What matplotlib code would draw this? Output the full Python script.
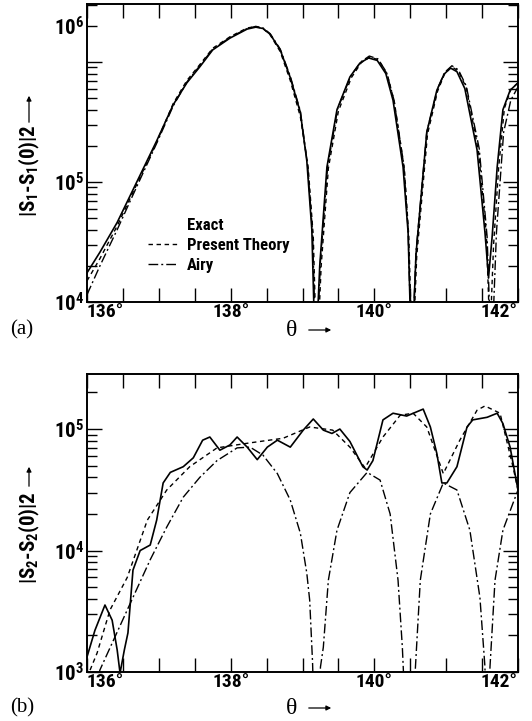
import matplotlib
matplotlib.use("Agg")
import matplotlib.pyplot as plt
from matplotlib.lines import Line2D
from matplotlib.patches import FancyArrowPatch
from matplotlib.ticker import FixedLocator, NullFormatter

plt.rcParams['font.family'] = ['Roboto Condensed', 'DejaVu Sans']
plt.rcParams['font.weight'] = 'bold'
plt.rcParams['mathtext.fontset'] = 'custom'
plt.rcParams['mathtext.rm'] = 'Roboto Condensed:bold'
plt.rcParams['mathtext.it'] = 'Roboto Condensed:bold'
plt.rcParams['mathtext.bf'] = 'Roboto Condensed:bold'

# ---- panel (a): |S1 - S1(0)|^2 ----
theta_exact_a = [136.00, 136.18, 136.42, 136.64, 136.97, 137.20, 137.39, 137.57, 137.75, 137.99,
                 138.23, 138.35, 138.45, 138.55, 138.69, 138.83, 138.97, 139.06, 139.13, 139.18,
                 139.24, 139.34, 139.48, 139.66, 139.80, 139.92, 140.04, 140.16, 140.26, 140.40,
                 140.47, 140.52, 140.58, 140.73, 140.87, 140.97, 141.06, 141.15, 141.26, 141.43,
                 141.54, 141.59, 141.64, 141.71, 141.79, 141.89, 142.00]
exact_a = [1.75e4, 2.6e4, 4.6e4, 8.6e4, 2.2e5, 4.4e5, 6.7e5, 9.1e5, 1.26e6, 1.58e6,
           1.88e6, 1.95e6, 1.9e6, 1.7e6, 1.26e6, 7.4e5, 3.8e5, 1.5e5, 4.0e4, 3e3,
           2.0e4, 1.33e5, 4.0e5, 7.5e5, 9.8e5, 1.08e6, 1.03e6, 8.0e5, 4.8e5, 1.33e5,
           3.8e4, 3e3, 2.5e4, 2.6e5, 5.8e5, 7.9e5, 8.9e5, 8.3e5, 6.0e5, 1.85e5,
           3.8e4, 1.6e4, 3.5e4, 1.33e5, 4.0e5, 5.8e5, 6.7e5]

theta_present_a = [136.00, 136.18, 136.42, 136.64, 136.97, 137.20, 137.39, 137.57, 137.75, 137.99,
                   138.23, 138.35, 138.45, 138.55, 138.69, 138.83, 138.97, 139.08, 139.15, 139.20,
                   139.26, 139.36, 139.50, 139.68, 139.82, 139.94, 140.06, 140.18, 140.28, 140.42,
                   140.48, 140.53, 140.59, 140.74, 140.88, 140.98, 141.08, 141.17, 141.28, 141.45,
                   141.56, 141.61, 141.66, 141.73, 141.81, 141.90, 142.00]
present_a = [1.5e4, 2.3e4, 4.3e4, 8.2e4, 2.15e5, 4.5e5, 7.0e5, 9.5e5, 1.3e6, 1.62e6,
             1.92e6, 1.97e6, 1.9e6, 1.68e6, 1.22e6, 7.0e5, 3.5e5, 1.3e5, 3.5e4, 3e3,
             2.0e4, 1.3e5, 3.9e5, 7.4e5, 9.9e5, 1.1e6, 1.04e6, 7.9e5, 4.6e5, 1.25e5,
             3.5e4, 3e3, 2.4e4, 2.5e5, 5.7e5, 8.0e5, 9.1e5, 8.4e5, 6.1e5, 1.8e5,
             3.6e4, 5e3, 3.0e4, 1.3e5, 4.1e5, 5.9e5, 6.7e5]

theta_airy_a = [136.00, 136.18, 136.42, 136.64, 136.97, 137.20, 137.39, 137.57, 137.75, 137.99,
                138.23, 138.35, 138.45, 138.55, 138.69, 138.83, 138.97, 139.07, 139.14, 139.19,
                139.25, 139.35, 139.49, 139.67, 139.81, 139.93, 140.05, 140.17, 140.27, 140.41,
                140.47, 140.52, 140.58, 140.73, 140.88, 140.98, 141.08, 141.17, 141.28, 141.46,
                141.57, 141.63, 141.70, 141.80, 141.90, 142.00]
airy_a = [1.15e4, 2.0e4, 4.0e4, 7.8e4, 2.1e5, 4.3e5, 6.8e5, 9.3e5, 1.28e6, 1.6e6,
          1.9e6, 1.98e6, 1.92e6, 1.72e6, 1.28e6, 7.6e5, 3.9e5, 1.4e5, 3.8e4, 3e3,
          2.2e4, 1.35e5, 4.1e5, 7.6e5, 1.0e6, 1.12e6, 1.06e6, 8.2e5, 4.9e5, 1.4e5,
          4.0e4, 3e3, 2.6e4, 2.6e5, 6.0e5, 8.2e5, 9.3e5, 8.6e5, 6.3e5, 1.9e5,
          3.5e4, 3e3, 3.8e4, 2.6e5, 4.8e5, 6.2e5]

# ---- panel (b): |S2 - S2(0)|^2 ----
theta_exact_b = [136.00, 136.11, 136.25, 136.35, 136.42, 136.46, 136.52, 136.57, 136.64, 136.74,
                 136.88, 136.97, 137.06, 137.16, 137.34, 137.48, 137.61, 137.71, 137.85, 137.99,
                 138.09, 138.23, 138.37, 138.51, 138.65, 138.83, 139.01, 139.15, 139.29, 139.41,
                 139.52, 139.66, 139.84, 139.90, 139.98, 140.12, 140.26, 140.45, 140.68, 140.78,
                 140.87, 140.94, 141.01, 141.15, 141.29, 141.37, 141.57, 141.71, 141.79, 141.89,
                 142.00]
exact_b = [1.33e3, 2.2e3, 3.56e3, 2.67e3, 1.52e3, 0.98e3, 1.52e3, 2.1e3, 6.9e3, 1.0e4,
           1.11e4, 1.78e4, 3.6e4, 4.4e4, 4.9e4, 5.8e4, 8.1e4, 8.6e4, 6.7e4, 7.4e4,
           8.6e4, 7.1e4, 5.6e4, 7.1e4, 8.1e4, 7.1e4, 9.8e4, 1.21e5, 9.8e4, 9.2e4,
           1.0e5, 7.9e4, 4.9e4, 4.6e4, 5.5e4, 1.19e5, 1.35e5, 1.28e5, 1.46e5, 1.04e5,
           6.3e4, 3.6e4, 3.6e4, 4.9e4, 1.04e5, 1.19e5, 1.25e5, 1.35e5, 1.11e5, 7.1e4,
           3.15e4]

theta_present_b = [136.00, 136.14, 136.32, 136.56, 136.84, 137.11, 137.43, 137.81, 138.27, 138.73,
                   139.10, 139.42, 139.66, 139.87, 140.12, 140.36, 140.54, 140.73, 140.96, 141.19,
                   141.43, 141.54, 141.75, 141.93, 142.00]
present_b = [9.0e2, 1.43e3, 3.24e3, 6.0e3, 1.78e4, 3.15e4, 4.9e4, 7.0e4, 7.7e4, 8.4e4,
             1.04e5, 9.8e4, 7.1e4, 4.8e4, 8.6e4, 1.3e5, 1.35e5, 1.04e5, 4.3e4, 8.1e4,
             1.43e5, 1.55e5, 1.35e5, 4.9e4, 3.15e4]

theta_airy_b = [136.10, 136.18, 136.56, 136.88, 137.11, 137.34, 137.57, 137.81, 138.09, 138.27,
                138.45, 138.65, 138.83, 138.97, 139.06, 139.10, 139.14, 139.19, 139.25, 139.29,
                139.36, 139.48, 139.66, 139.90, 140.08, 140.22, 140.33, 140.39, 140.48, 140.57,
                140.64, 140.78, 140.96, 141.15, 141.33, 141.47, 141.54, 141.57, 141.61, 141.68,
                141.79, 141.93, 142.00]
airy_b = [7.0e2, 1.04e3, 3.24e3, 8.4e3, 1.56e4, 2.75e4, 4.0e4, 5.5e4, 7.0e4, 7.1e4,
          6.1e4, 4.3e4, 2.6e4, 1.39e4, 6.5e3, 3.9e3, 1.2e3, 1.0e2, 1.1e3, 1.6e3,
          5.7e3, 1.47e4, 3.0e4, 4.4e4, 3.8e4, 2.0e4, 5.7e3, 1.6e3, 1.0e2, 1.04e3,
          5.7e3, 2.0e4, 3.6e4, 3.15e4, 1.47e4, 4.1e3, 1.1e3, 1.0e2, 1.1e3, 5.7e3,
          1.47e4, 2.45e4, 3.15e4]

legend_labels = ['Exact', 'Present Theory', 'Airy']
xtick_major = [136, 137, 138, 139, 140, 141, 142]
xtick_labels = ['136°', '', '138°', '', '140°', '', '142°']

dashed = (0, (3.2, 2.6))
dashdot = (0, (7, 2.2, 1.4, 2.2))

W, H = 532, 721
fig = plt.figure(figsize=(W / 100, H / 100), dpi=100)
ax1 = fig.add_axes([87 / W, 1 - 302 / H, 431 / W, 298 / H])
ax2 = fig.add_axes([87 / W, 1 - 672 / H, 431 / W, 298 / H])

for ax, th_e, e, th_p, p, th_a, a in [
        (ax1, theta_exact_a, exact_a, theta_present_a, present_a, theta_airy_a, airy_a),
        (ax2, theta_exact_b, exact_b, theta_present_b, present_b, theta_airy_b, airy_b)]:
    ax.plot(th_e, e, color='black', lw=1.2, ls='-')
    ax.plot(th_p, p, color='black', lw=1.0, ls=dashed)
    ax.plot(th_a, a, color='black', lw=1.0, ls=dashdot)
    ax.set_yscale('log')
    ax.set_xlim(136, 142)
    ax.set_xticks(xtick_major)
    ax.set_xticklabels(xtick_labels)
    ax.set_xticks([136.5, 137.5, 138.5, 139.5, 140.5, 141.5], minor=True)
    for sp in ax.spines.values():
        sp.set_linewidth(1.4)
    ax.tick_params(which='both', direction='in', top=True, right=True, width=1.0, pad=2)
    ax.tick_params(axis='x', labelsize=14, pad=1)
    ax.tick_params(which='major', length=11)
    ax.tick_params(which='minor', length=7)
    ax.tick_params(axis='x', which='both', length=10)
    xl = ax.get_xticklabels()
    xl[0].set_horizontalalignment('left')
    xl[-1].set_horizontalalignment('right')
    ax.yaxis.set_minor_formatter(NullFormatter())

# panel (a) y axis: the printed "10^6" label sits on the 2x10^6 tick
ax1.set_ylim(1e4, 3.04e6)
ax1.set_yticks([1e4, 1e5, 1e6])
ax1.set_yticklabels([r'$10^4$', r'$10^5$', ''], fontsize=15)
minor_a = [2e4, 3e4, 4e4, 5e4, 6e4, 7e4, 8e4, 9e4,
           2e5, 3e5, 4e5, 5e5, 6e5, 7e5, 8e5, 9e5, 2e6, 3e6]
ax1.set_yticks(minor_a, minor=True)
ax1.set_yticklabels([''] * 16 + [r'$10^6$', ''], minor=True, fontsize=15)

ax2.set_ylim(1e3, 2.84e5)
ax2.set_yticks([1e3, 1e4, 1e5])
ax2.set_yticklabels([r'$10^3$', r'$10^4$', r'$10^5$'], fontsize=15)
minor_b = [k * 10 ** d for d in (3, 4) for k in range(2, 10)] + [2e5]
ax2.yaxis.set_minor_locator(FixedLocator(minor_b))

# legend (no line sample for Exact)
handles = [Line2D([], [], ls='None'),
           Line2D([], [], color='black', lw=1.0, ls=dashed),
           Line2D([], [], color='black', lw=1.0, ls=dashdot)]
ax1.legend(handles, legend_labels, loc='upper left', bbox_to_anchor=(0.125, 0.305),
           frameon=False, fontsize=12, handlelength=1.8, handletextpad=0.55,
           labelspacing=0.3, borderaxespad=0)

# axis labels
for ylab_center, arrow_top, arrow_bot, txt in [
        (171, 93, 125, r'|$S_1$-$S_1$(0)|2'),
        (538, 464, 489, r'|$S_2$-$S_2$(0)|2')]:
    fig.text(29 / W, 1 - ylab_center / H, txt, rotation=90, ha='center', va='center',
             fontsize=15)
    fig.add_artist(FancyArrowPatch(
        (29 / W, 1 - arrow_bot / H), (29 / W, 1 - arrow_top / H),
        transform=fig.transFigure, arrowstyle='-|>', mutation_scale=7,
        color='black', lw=0.9))

for ybase, letter in [(330, '(a)'), (708, '(b)')]:
    fig.text(292 / W, 1 - ybase / H, 'θ', ha='center', va='center',
             family='Liberation Serif', fontweight='normal', fontsize=17)
    fig.add_artist(FancyArrowPatch(
        (306 / W, 1 - ybase / H), (334 / W, 1 - ybase / H),
        transform=fig.transFigure, arrowstyle='-|>', mutation_scale=7,
        color='black', lw=0.9))
    fig.text(10 / W, 1 - ybase / H, letter, ha='left', va='center',
             family='Liberation Serif', fontweight='normal', fontsize=15)

fig.savefig('out.png', dpi=100)
